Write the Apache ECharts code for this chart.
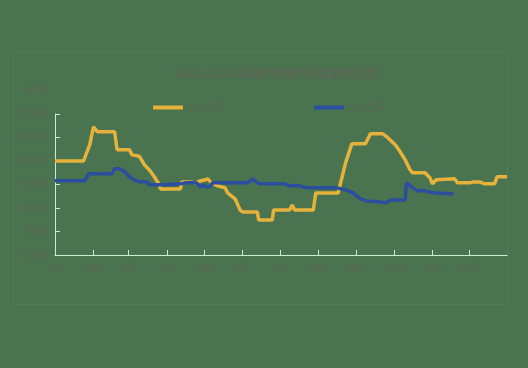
<!DOCTYPE html>
<html>
<head>
<meta charset="utf-8">
<script src="https://cdn.jsdelivr.net/npm/echarts@6/dist/echarts.min.js"></script>
<style>
html,body{margin:0;padding:0;background:#4a7350;}
#c{width:528px;height:368px;}
</style>
</head>
<body>
<div id="c"></div>
<script>
// ---- data ----
var titleText = '2021-2022年国内市场均价走势对比图';
var unitText = '元/吨';
var seriesNames = ['2021年', '2022年'];
var yTicks = [6000, 7000, 8000, 9000, 10000, 11000, 12000];
var monthDays = [31, 28, 31, 30, 31, 30, 31, 31, 30, 31, 30, 31];

// [day-of-year index, price]
var series2021 = [
  [0,10000],[23,10000],[28,10700],[31,11450],[34,11250],[48,11250],[50,10480],[60,10480],
  [62,10260],[68,10200],[72,9840],[76,9620],[80,9330],[84,8990],[85,8810],[101,8810],
  [102,9110],[109,9110],[113,9070],[117,9150],[121,9200],[123,9240],[126,9070],[131,8940],
  [137,8860],[139,8640],[145,8390],[149,7920],[151,7830],[163,7830],[164,7490],[175,7490],
  [176,7920],[189,7920],[191,8130],[193,7920],[208,7920],[210,8640],[228,8640],[230,9070],
  [234,9920],[239,10730],[250,10730],[254,11160],[264,11160],[268,10990],[274,10690],
  [278,10390],[282,10050],[286,9620],[288,9500],[298,9500],[302,9280],[304,9030],[307,9200],
  [322,9240],[324,9070],[334,9070],[337,9110],[342,9110],[346,9030],[354,9030],[356,9330],[364,9330]
];
var series2022 = [
  [0,9155],[24,9155],[27,9454],[46,9454],[48,9667],[52,9667],[56,9539],[60,9326],[64,9198],
  [68,9113],[74,9113],[76,8985],[89,8985],[90,9027],[101,9027],[105,9070],[114,9070],
  [117,8900],[120,8980],[122,8880],[125,8920],[127,9070],[155,9070],[159,9241],[163,9070],
  [165,9027],[185,9027],[189,8942],[197,8942],[203,8857],[227,8857],[234,8772],[240,8644],
  [246,8388],[251,8303],[262,8260],[266,8217],[271,8345],[282,8345],[283,9070],[287,8900],
  [292,8729],[298,8729],[304,8644],[305,8600],[321,8600]
];

// day categories (non-leap year)
var dayCats = [];
monthDays.forEach(function (n, m) {
  for (var d = 1; d <= n; d++) dayCats.push((m + 1) + '月' + d + '日');
});

var textColor = '#5d6656';
var axisColor = '#cdebd6';

var chart = echarts.init(document.getElementById('c'), null, {renderer: 'canvas'});
chart.setOption({
  backgroundColor: '#4a7350',
  animation: false,
  title: {
    text: titleText,
    left: 271, textAlign: 'center', top: 62,
    textStyle: {color: textColor, fontSize: 12, fontWeight: 'bold', fontFamily: 'Noto Sans CJK SC'}
  },
  graphic: [{
    type: 'rect', shape: {x: 13.5, y: 52.5, width: 494, height: 252},
    style: {fill: 'none', stroke: '#54795a', lineWidth: 1}, silent: true
  }],
  legend: [
    {data: [seriesNames[0]], left: 148, top: 97, itemWidth: 30, itemHeight: 4, icon: 'rect',
     textStyle: {color: textColor, fontSize: 11, fontFamily: 'Noto Sans CJK SC'}},
    {data: [seriesNames[1]], left: 309, top: 97, itemWidth: 30, itemHeight: 4, icon: 'rect',
     textStyle: {color: textColor, fontSize: 11, fontFamily: 'Noto Sans CJK SC'}}
  ],
  grid: {left: 55, right: 21, top: 114, bottom: 113, containLabel: false},
  xAxis: {
    type: 'category', data: dayCats, boundaryGap: false,
    axisLine: {lineStyle: {color: axisColor, width: 1}},
    axisTick: {inside: true, length: 5, lineStyle: {color: axisColor},
      interval: function (i, v) { return /月1日$/.test(v); }},
    axisLabel: {color: textColor, fontSize: 10, margin: 8, fontFamily: 'Noto Sans CJK SC',
      interval: function (i, v) { return /月1日$/.test(v); },
      formatter: function (v) { return v.split('月')[0] + '月'; }},
    splitLine: {show: false}
  },
  yAxis: {
    type: 'value', min: yTicks[0], max: yTicks[yTicks.length - 1], interval: 1000,
    name: unitText, nameLocation: 'end', nameGap: 20,
    nameTextStyle: {color: textColor, fontSize: 10, align: 'right', padding: [0, 7, 0, 0], fontFamily: 'Noto Sans CJK SC'},
    axisLine: {show: true, lineStyle: {color: axisColor, width: 1}},
    axisTick: {show: true, inside: true, length: 5, lineStyle: {color: axisColor}},
    axisLabel: {color: textColor, fontSize: 10, margin: 8, fontFamily: 'Liberation Sans'},
    splitLine: {show: false}
  },
  series: [
    {name: seriesNames[0], type: 'line', data: series2021, showSymbol: false, symbol: 'none',
     lineStyle: {color: '#e6b23c', width: 3.5}, itemStyle: {color: '#e6b23c'}, z: 2},
    {name: seriesNames[1], type: 'line', data: series2022, showSymbol: false, symbol: 'none',
     lineStyle: {color: '#2b4f9e', width: 3.5}, itemStyle: {color: '#2b4f9e'}, z: 3}
  ]
});
</script>
</body>
</html>
